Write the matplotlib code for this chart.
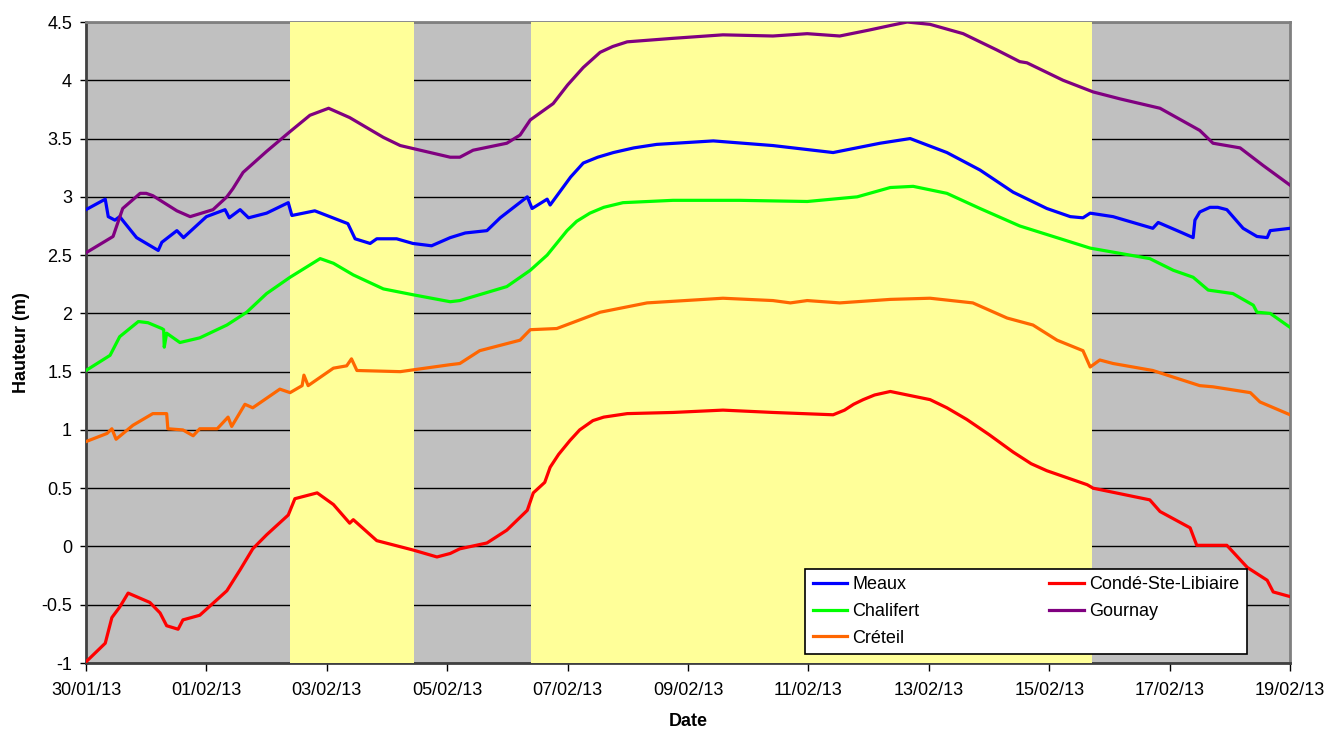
import datetime as dt
import matplotlib
matplotlib.use("Agg")
import matplotlib.pyplot as plt
import matplotlib.dates as mdates
from matplotlib.ticker import FuncFormatter, MultipleLocator

plt.rcParams['font.family'] = ['Liberation Sans', 'DejaVu Sans']

start = dt.datetime(2013, 1, 30)

# values: (days since 30/01/13 00:00, height in m)
meaux_t = [0, 0.32, 0.37, 0.48, 0.56, 0.84, 1.2, 1.26, 1.51, 1.62, 2.0, 2.31, 2.38, 2.56, 2.7,
           3.0, 3.36, 3.42, 3.8, 4.35, 4.47, 4.72, 4.83, 5.16, 5.43, 5.74, 6.05, 6.3, 6.66, 6.88,
           7.33, 7.41, 7.66, 7.71, 8.05, 8.26, 8.5, 8.76, 9.1, 9.48, 10.42, 11.41, 12.41, 13.19,
           13.69, 14.3, 14.85, 15.4, 15.96, 16.35, 16.56, 16.68, 17.06, 17.72, 17.81, 18.17, 18.39,
           18.42, 18.5, 18.67, 18.8, 18.95, 19.22, 19.45, 19.62, 19.67, 20.0]
meaux_v = [2.89, 2.98, 2.83, 2.80, 2.83, 2.65, 2.54, 2.61, 2.71, 2.65, 2.83, 2.89, 2.82, 2.89, 2.82,
           2.86, 2.95, 2.84, 2.88, 2.77, 2.64, 2.60, 2.64, 2.64, 2.60, 2.58, 2.65, 2.69, 2.71, 2.82,
           3.0, 2.90, 2.98, 2.93, 3.17, 3.29, 3.34, 3.38, 3.42, 3.45, 3.48, 3.44, 3.38, 3.46,
           3.50, 3.38, 3.23, 3.04, 2.90, 2.83, 2.82, 2.86, 2.83, 2.73, 2.78, 2.70, 2.65,
           2.80, 2.87, 2.91, 2.91, 2.89, 2.73, 2.66, 2.65, 2.71, 2.73]

chalifert_t = [0, 0.4, 0.56, 0.87, 1.03, 1.26, 1.29, 1.30, 1.34, 1.56, 1.89, 2.34, 2.67, 3.0, 3.39,
               3.89, 4.11, 4.44, 4.94, 5.43, 6.05, 6.21, 6.99, 7.38, 7.66, 7.99, 8.15, 8.37, 8.6,
               8.92, 9.75, 10.86, 11.98, 12.81, 13.36, 13.74, 14.3, 14.85, 15.51, 16.68, 17.67,
               18.06, 18.39, 18.64, 19.05, 19.39, 19.45, 19.67, 20.0]
chalifert_v = [1.51, 1.64, 1.80, 1.93, 1.92, 1.87, 1.86, 1.71, 1.83, 1.75, 1.79, 1.90, 2.01, 2.17, 2.31,
               2.47, 2.43, 2.33, 2.21, 2.16, 2.10, 2.11, 2.23, 2.37, 2.50, 2.71, 2.79, 2.86, 2.91,
               2.95, 2.97, 2.97, 2.96, 3.00, 3.08, 3.09, 3.03, 2.90, 2.75, 2.56, 2.47,
               2.37, 2.31, 2.20, 2.17, 2.07, 2.01, 2.00, 1.88]

creteil_t = [0, 0.35, 0.43, 0.5, 0.78, 1.11, 1.34, 1.36, 1.61, 1.78, 1.89, 2.18, 2.36, 2.42, 2.64,
             2.77, 3.22, 3.39, 3.59, 3.62, 3.69, 4.11, 4.33, 4.41, 4.5, 5.22, 6.05, 6.21, 6.54, 7.21,
             7.38, 7.82, 8.54, 9.32, 10.58, 11.41, 11.7, 11.98, 12.52, 13.36, 14.02, 14.73, 15.3,
             15.73, 16.13, 16.56, 16.68, 16.84, 17.06, 17.72, 18.5, 18.72, 19.34, 19.5, 20.0]
creteil_v = [0.90, 0.97, 1.01, 0.92, 1.04, 1.14, 1.14, 1.01, 1.00, 0.95, 1.01, 1.01, 1.11, 1.03, 1.22,
             1.19, 1.35, 1.32, 1.38, 1.47, 1.38, 1.53, 1.55, 1.61, 1.51, 1.50, 1.56, 1.57, 1.68, 1.77,
             1.86, 1.87, 2.01, 2.09, 2.13, 2.11, 2.09, 2.11, 2.09, 2.12, 2.13, 2.09, 1.96,
             1.90, 1.77, 1.68, 1.54, 1.60, 1.57, 1.51, 1.38, 1.37, 1.32, 1.24, 1.13]

conde_t = [0, 0.32, 0.43, 0.56, 0.70, 1.06, 1.23, 1.34, 1.53, 1.61, 1.89, 2.34, 2.56, 2.77, 3.0,
           3.36, 3.47, 3.84, 4.11, 4.38, 4.44, 4.83, 5.43, 5.83, 6.05, 6.21, 6.66, 6.99, 7.33, 7.43,
           7.62, 7.71, 7.85, 8.04, 8.2, 8.42, 8.6, 8.99, 9.75, 10.58, 11.41, 12.41, 12.6, 12.75,
           12.91, 13.1, 13.36, 14.02, 14.3, 14.63, 15.0, 15.4, 15.7, 15.96, 16.63, 16.73, 17.67,
           17.84, 18.34, 18.45, 18.95, 19.29, 19.62, 19.72, 20.0]
conde_v = [-0.99, -0.83, -0.61, -0.52, -0.40, -0.48, -0.57, -0.68, -0.71, -0.63, -0.59, -0.38, -0.20,
           -0.02, 0.10, 0.27, 0.41, 0.46, 0.36, 0.20, 0.23, 0.05, -0.03, -0.09, -0.06, -0.02, 0.03,
           0.14, 0.31, 0.46, 0.55, 0.68, 0.79, 0.91, 1.00, 1.08, 1.11, 1.14, 1.15, 1.17, 1.15, 1.13,
           1.17, 1.22, 1.26, 1.30, 1.33, 1.26, 1.19, 1.09, 0.96, 0.81, 0.71, 0.65, 0.53, 0.50, 0.40,
           0.30, 0.16, 0.01, 0.01, -0.18, -0.29, -0.39, -0.43]

gournay_t = [0, 0.45, 0.61, 0.90, 1.0, 1.11, 1.51, 1.73, 2.11, 2.34, 2.44, 2.61, 3.0, 3.39, 3.72,
             4.03, 4.38, 4.94, 5.22, 6.05, 6.21, 6.43, 6.99, 7.21, 7.38, 7.76, 8.0, 8.26, 8.54,
             8.75, 8.99, 9.75, 10.58, 11.41, 11.98, 12.52, 13.0, 13.36, 13.64, 14.02, 14.57, 15.13,
             15.51, 15.63, 16.23, 16.73, 17.18, 17.84, 18.5, 18.72, 19.17, 19.55, 20.0]
gournay_v = [2.52, 2.66, 2.90, 3.03, 3.03, 3.01, 2.88, 2.83, 2.89, 3.0, 3.07, 3.21, 3.39, 3.56, 3.70,
             3.76, 3.68, 3.51, 3.44, 3.34, 3.34, 3.40, 3.46, 3.53, 3.66, 3.80, 3.96, 4.11, 4.24,
             4.29, 4.33, 4.36, 4.39, 4.38, 4.40, 4.38, 4.43, 4.47, 4.50, 4.48, 4.40, 4.26,
             4.16, 4.15, 4.00, 3.90, 3.84, 3.76, 3.57, 3.46, 3.42, 3.27, 3.10]

# highlighted (yellow) periods, days since start
highlight_spans = [(3.39, 5.45), (7.39, 16.71)]

series = [
    ("Meaux", meaux_t, meaux_v, "#0000FF"),
    ("Chalifert", chalifert_t, chalifert_v, "#00FF00"),
    ("Créteil", creteil_t, creteil_v, "#FF6600"),
    ("Condé-Ste-Libiaire", conde_t, conde_v, "#FF0000"),
    ("Gournay", gournay_t, gournay_v, "#800080"),
]


def to_dates(days):
    return [start + dt.timedelta(days=d) for d in days]


fig = plt.figure(figsize=(13.29, 7.29), dpi=100)
ax = fig.add_axes([0.0647, 0.0905, 0.906, 0.8793])
ax.set_facecolor("#C0C0C0")

for a, b in highlight_spans:
    ax.axvspan(start + dt.timedelta(days=a), start + dt.timedelta(days=b),
               color="#FFFF99", lw=0, zorder=2.6)

for name, t, v, col in series:
    ax.plot(to_dates(t), v, color=col, lw=2.3, label=name, zorder=3)

ax.set_xlim(start, start + dt.timedelta(days=20))
ax.set_ylim(-1, 4.5)
ax.set_xticks(to_dates(range(0, 21, 2)))
ax.xaxis.set_major_formatter(mdates.DateFormatter("%d/%m/%y"))
ax.yaxis.set_major_locator(MultipleLocator(0.5))
ax.yaxis.set_major_formatter(FuncFormatter(lambda v, p: "%g" % v))

ax.set_axisbelow(True)
ax.grid(axis="y", color="black", lw=1.0)
ax.grid(axis="x", visible=False)

for s in ["top", "right"]:
    ax.spines[s].set_color("#808080")
    ax.spines[s].set_linewidth(2)
ax.spines["left"].set_color("#404040")
ax.spines["left"].set_linewidth(2)
ax.spines["bottom"].set_color("#404040")
ax.spines["bottom"].set_linewidth(2)

ax.tick_params(axis="x", length=6, width=1, pad=8, labelsize=13)
ax.tick_params(axis="y", length=4, width=1, pad=6, labelsize=13)

ax.set_xlabel("Date", fontsize=13, fontweight="bold", labelpad=10)
ax.set_ylabel("Hauteur (m)", fontsize=13, fontweight="bold", labelpad=8)

leg = ax.legend(loc="lower left", bbox_to_anchor=(0.59, 0.0), ncol=2, fontsize=13,
                frameon=True, fancybox=False, edgecolor="black", framealpha=1,
                handlelength=1.9, handletextpad=0.3, columnspacing=7.2,
                labelspacing=0.55, borderpad=0.4)
leg.get_frame().set_linewidth(1.2)
leg.set_zorder(5)

fig.savefig("out.png", dpi=100)
